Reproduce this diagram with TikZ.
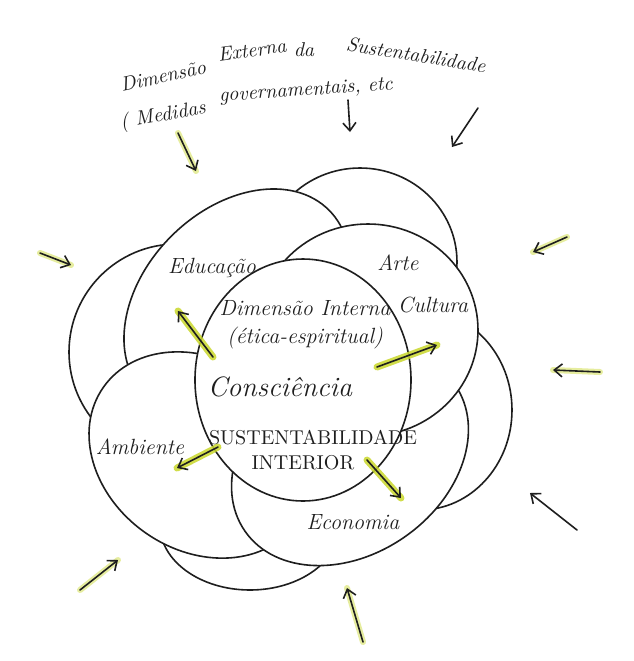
\documentclass[tikz,border=0pt]{standalone}
\usetikzlibrary{arrows.meta}
\definecolor{ink}{HTML}{1E1E1E}
\definecolor{hilite}{HTML}{C9D82B}
\tikzset{
  petal/.style={draw=ink, fill=white, line width=0.8pt},
  lbl/.style={font=\itshape\fontsize{11}{12}\selectfont, text=ink, inner sep=0pt},
  title/.style={font=\itshape\fontsize{10}{11}\selectfont, text=ink, inner sep=0pt},
  hl/.style={draw=hilite, line width=3.5pt, line cap=round, opacity=0.85},
  softhl/.style={draw=hilite, line width=3pt, line cap=round, opacity=0.45},
  inkarrow/.style={draw=ink, line width=0.8pt, line cap=round, -{Straight Barb[length=4pt,width=6.5pt]}},
}
\begin{document}
\begin{tikzpicture}[x=0.5pt,y=-0.5pt]
\useasboundingbox (0,0) rectangle (634,661);
\fill[white] (0,0) rectangle (634,661);

% title
\node[title, rotate=12] (t1) at (163,76) {Dimensão};
\node[title, rotate=8] (t2) at (252,50) {Externa};
\node[title] (t3) at (304,50) {da};
\node[title, rotate=-9] (t4) at (416,55) {Sustentabilidade};
\node[title, rotate=10] (t5) at (163,116) {( Medidas};
\node[title, rotate=4] (t6) at (306,91) {governamentais, etc};

% back bubbles
\draw[petal] (360,262) ellipse [x radius=97, y radius=94];
\draw[petal] (420,410) ellipse [x radius=92, y radius=100];
\draw[petal] (250,525) ellipse [x radius=90, y radius=65];
\draw[petal] (177,352) ellipse [x radius=108, y radius=108];

% front petals
\draw[petal] (237,302) ellipse [x radius=130, y radius=93, rotate=45];
\draw[petal] (200,455) ellipse [x radius=118, y radius=95, rotate=-35];
\draw[petal] (350,458) ellipse [x radius=128, y radius=96, rotate=35];
\draw[petal] (368,330) ellipse [x radius=110, y radius=106];
% center
\draw[petal] (303,380) ellipse [x radius=108, y radius=121];

% labels
\node[lbl] (edu) at (212,268) {Educação};
\node[lbl] (arte) at (398,263) {Arte};
\node[lbl] (cult) at (433,305) {Cultura};
\node[lbl] (amb) at (140,447) {Ambiente};
\node[lbl] (eco) at (353,522) {Economia};
\node[lbl] (di) at (305,308) {Dimensão Interna};
\node[lbl] (ee) at (305,338) {(ética-espiritual)};
\node[lbl, font=\itshape\fontsize{14}{16}\selectfont] (con) at (280,387) {Consciência};
\node[lbl, font=\fontsize{10}{12}\selectfont] (sus) at (313,438) {SUSTENTABILIDADE};
\node[lbl, font=\fontsize{10}{12}\selectfont] (int) at (303,463) {INTERIOR};

% inner arrows
\coordinate (i1s) at (213,357); \coordinate (i1e) at (178,311);
\coordinate (i2s) at (377,367); \coordinate (i2e) at (437,345);
\coordinate (i3s) at (218,447); \coordinate (i3e) at (177,468);
\coordinate (i4s) at (367,460); \coordinate (i4e) at (401,498);
\foreach \a in {1,2,3,4}{
  \path[hl] (i\a s) -- (i\a e);
  \draw[inkarrow] (i\a s) -- (i\a e);
}

% outer arrows
\coordinate (o1s) at (178,133); \coordinate (o1e) at (196,171);
\coordinate (o2s) at (348,100); \coordinate (o2e) at (350,132);
\coordinate (o3s) at (478,108); \coordinate (o3e) at (452,147);
\coordinate (o4s) at (40,253);  \coordinate (o4e) at (71,265);
\coordinate (o5s) at (567,237); \coordinate (o5e) at (533,252);
\coordinate (o6s) at (600,372); \coordinate (o6e) at (553,370);
\coordinate (o7s) at (577,530); \coordinate (o7e) at (530,493);
\coordinate (o8s) at (80,590);  \coordinate (o8e) at (118,560);
\coordinate (o9s) at (363,642); \coordinate (o9e) at (347,588);
\foreach \a in {1,4,5,6,8,9}{
  \path[softhl] (o\a s) -- (o\a e);
}
\foreach \a in {1,2,3,4,5,6,7,8,9}{
  \draw[inkarrow] (o\a s) -- (o\a e);
}
\end{tikzpicture}
\end{document}
